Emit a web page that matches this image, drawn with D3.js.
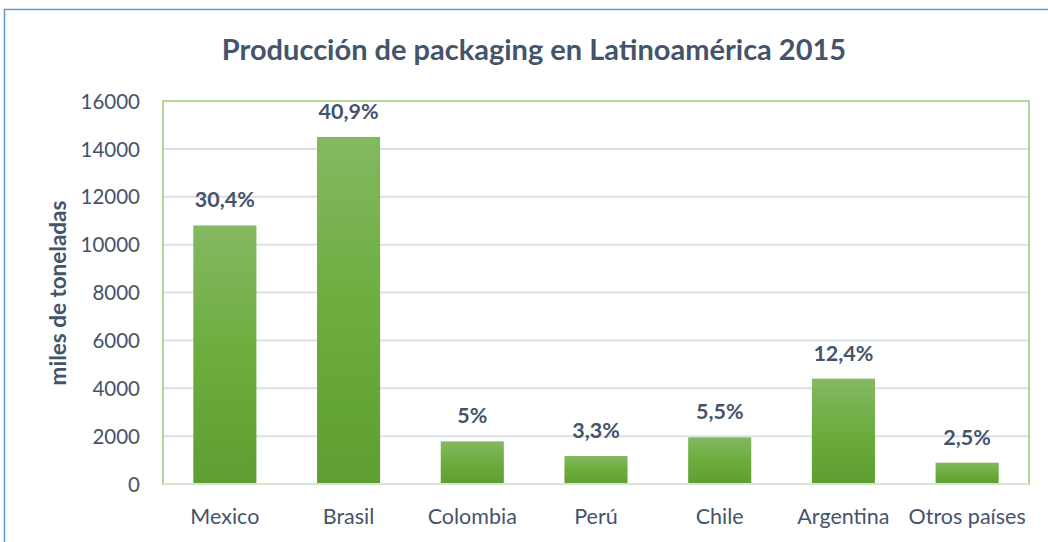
<!DOCTYPE html>
<html>
<head>
<meta charset="utf-8">
<script src="https://cdn.jsdelivr.net/npm/d3@7/dist/d3.min.js"></script>
<style>
  html, body { margin: 0; padding: 0; background: #fff; }
  svg { display: block; }
  text { font-family: Lato, "Open Sans", sans-serif; fill: #44546a; }
</style>
</head>
<body>
<svg id="chart" width="1048" height="542"></svg>
<script>
// Production by country (thousand tonnes) and share of the regional total
const countries = ["Mexico", "Brasil", "Colombia", "Perú", "Chile", "Argentina", "Otros países"];
const tonnes = [10800, 14500, 1780, 1170, 1950, 4400, 890];
const shares = ["30,4%", "40,9%", "5%", "3,3%", "5,5%", "12,4%", "2,5%"];
const yTicks = [0, 2000, 4000, 6000, 8000, 10000, 12000, 14000, 16000];

const svg = d3.select("#chart");
const plot = { left: 163, right: 1029, top: 101, bottom: 484 };

// outer chart border (top and left edges visible)
svg.append("path")
  .attr("d", "M4.5,542 L4.5,9.5 L1048,9.5")
  .attr("fill", "none")
  .attr("stroke", "#5b9bd5")
  .attr("stroke-width", 1.5);

// bar gradient
const defs = svg.append("defs");
const grad = defs.append("linearGradient")
  .attr("id", "barGrad").attr("x1", 0).attr("y1", 0).attr("x2", 0).attr("y2", 1);
grad.append("stop").attr("offset", "0%").attr("stop-color", "#84b862");
grad.append("stop").attr("offset", "50%").attr("stop-color", "#6cad3d");
grad.append("stop").attr("offset", "100%").attr("stop-color", "#5e9e32");

const x = d3.scaleBand()
  .domain(countries)
  .range([plot.left, plot.right])
  .paddingInner(0.49)
  .paddingOuter(0.245);

const y = d3.scaleLinear()
  .domain([0, 16000])
  .range([plot.bottom, plot.top]);

// horizontal gridlines
svg.append("g")
  .selectAll("line")
  .data(yTicks.filter(t => t > 0 && t < 16000))
  .join("line")
  .attr("x1", plot.left).attr("x2", plot.right)
  .attr("y1", d => y(d)).attr("y2", d => y(d))
  .attr("stroke", "#dbe0e8")
  .attr("stroke-width", 2);

// plot frame
svg.append("rect")
  .attr("x", plot.left).attr("y", plot.top)
  .attr("width", plot.right - plot.left)
  .attr("height", plot.bottom - plot.top)
  .attr("fill", "none")
  .attr("stroke", "#b3d79b")
  .attr("stroke-width", 2);

// bars
svg.append("g")
  .selectAll("rect")
  .data(countries)
  .join("rect")
  .attr("x", d => x(d))
  .attr("width", x.bandwidth())
  .attr("y", (d, i) => y(tonnes[i]))
  .attr("height", (d, i) => y(0) - y(tonnes[i]))
  .attr("fill", "url(#barGrad)");

// baseline
svg.append("line")
  .attr("x1", plot.left).attr("x2", plot.right)
  .attr("y1", y(0)).attr("y2", y(0))
  .attr("stroke", "#d7e4d0")
  .attr("stroke-width", 2);

// share labels above bars
svg.append("g")
  .selectAll("text")
  .data(countries)
  .join("text")
  .attr("x", d => x(d) + x.bandwidth() / 2)
  .attr("y", (d, i) => y(tonnes[i]) - 18)
  .attr("text-anchor", "middle")
  .style("font-size", "21.5px")
  .style("font-weight", "bold")
  .text((d, i) => shares[i]);

// y axis labels
const yAxis = d3.axisLeft(y).tickValues(yTicks).tickFormat(d3.format("d")).tickSize(0).tickPadding(0);
const yg = svg.append("g")
  .attr("transform", `translate(140,0)`)
  .call(yAxis);
yg.select(".domain").remove();
yg.selectAll("text")
  .style("font-size", "20.5px")
  .attr("dy", "0.35em")
  .style("fill", "#44546a");

// x axis labels
const xAxis = d3.axisBottom(x).tickSize(0).tickPadding(0);
const xg = svg.append("g")
  .attr("transform", `translate(0,${plot.bottom})`)
  .call(xAxis);
xg.select(".domain").remove();
xg.selectAll("text")
  .attr("y", 40)
  .attr("dy", 0)
  .style("font-size", "21.5px")
  .style("fill", "#44546a");

// y axis title
svg.append("text")
  .attr("transform", "translate(66,293) rotate(-90)")
  .attr("text-anchor", "middle")
  .style("font-size", "22.5px")
  .style("font-weight", "bold")
  .text("miles de toneladas");

// chart title
svg.append("text")
  .attr("x", 534)
  .attr("y", 60)
  .attr("text-anchor", "middle")
  .style("font-size", "29px")
  .style("font-weight", "bold")
  .text("Producción de packaging en Latinoamérica 2015");
</script>
</body>
</html>
